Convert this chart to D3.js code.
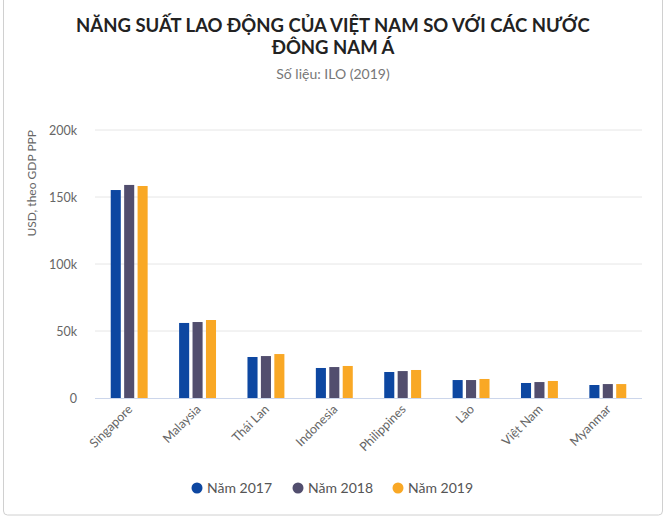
<!DOCTYPE html>
<html>
<head>
<meta charset="utf-8">
<script src="https://cdn.jsdelivr.net/npm/d3@7"></script>
<style>
  body { margin: 0; background: #fff; font-family: Lato, "Open Sans", sans-serif; }
  svg { display: block; }
</style>
</head>
<body>
<script>
const countries = ['Singapore', 'Malaysia', 'Thái Lan', 'Indonesia', 'Philippines', 'Lào', 'Việt Nam', 'Myanmar'];
const years = ['Năm 2017', 'Năm 2018', 'Năm 2019'];
const values2017 = [155.2, 56.0, 30.6, 22.4, 19.4, 13.4, 11.2, 9.7];
const values2018 = [159.0, 56.7, 31.3, 23.1, 20.1, 13.4, 11.9, 10.4];
const values2019 = [158.2, 58.2, 32.8, 23.9, 20.9, 14.2, 12.7, 10.4];
const yTicks = [0, 50, 100, 150, 200];
const colors = ['#0d47a1', '#524e6e', '#f9a825'];

const width = 666, height = 518;
const series = [values2017, values2018, values2019];

const svg = d3.select('body').append('svg')
    .attr('width', width)
    .attr('height', height);

// card border
svg.append('rect')
    .attr('x', 3.5).attr('y', -10)
    .attr('width', 659).attr('height', 525)
    .attr('rx', 4)
    .attr('fill', 'none')
    .attr('stroke', '#d0d0d0');

// titles
svg.append('text')
    .attr('x', 333).attr('y', 32)
    .attr('text-anchor', 'middle')
    .attr('font-size', 18.5).attr('font-weight', 'bold').attr('fill', '#222')
    .text('NĂNG SUẤT LAO ĐỘNG CỦA VIỆT NAM SO VỚI CÁC NƯỚC');
svg.append('text')
    .attr('x', 333).attr('y', 54)
    .attr('text-anchor', 'middle')
    .attr('font-size', 18.5).attr('font-weight', 'bold').attr('fill', '#222')
    .text('ĐÔNG NAM Á');
svg.append('text')
    .attr('x', 333).attr('y', 79)
    .attr('text-anchor', 'middle')
    .attr('font-size', 14).attr('fill', '#777')
    .text('Số liệu: ILO (2019)');

const plotLeft = 95, plotRight = 642, plotTop = 130, plotBottom = 398;

const y = d3.scaleLinear().domain([0, 200]).range([plotBottom, plotTop]);
const x0 = d3.scaleBand().domain(countries).range([plotLeft, plotRight])
    .paddingInner(0.46).paddingOuter(0.23);
const x1 = d3.scaleBand().domain(years).range([0, x0.bandwidth()])
    .paddingInner(0.25).paddingOuter(0);

// grid
svg.append('g').selectAll('line')
    .data(yTicks.filter(d => d > 0))
    .enter().append('line')
    .attr('x1', plotLeft).attr('x2', plotRight)
    .attr('y1', d => y(d)).attr('y2', d => y(d))
    .attr('stroke', '#e6e6e6');

// y axis labels
const yAxis = svg.append('g')
    .attr('transform', `translate(${plotLeft - 15},0)`)
    .call(d3.axisLeft(y).tickValues(yTicks).tickSize(0)
        .tickFormat(d => d === 0 ? '0' : d + 'k'));
yAxis.select('.domain').remove();
yAxis.selectAll('text')
    .attr('font-family', 'Lato, "Open Sans", sans-serif')
    .attr('font-size', 12.5).attr('fill', '#666');

svg.append('text')
    .attr('transform', `translate(36,${plotTop}) rotate(-90)`)
    .attr('text-anchor', 'end')
    .attr('font-size', 12).attr('fill', '#666')
    .text('USD, theo GDP PPP');

// bars
const groups = svg.append('g').selectAll('g')
    .data(countries)
    .enter().append('g')
    .attr('transform', d => `translate(${x0(d)},0)`);

groups.selectAll('rect')
    .data((c, i) => years.map((yr, j) => ({ yr, j, v: series[j][i] })))
    .enter().append('rect')
    .attr('x', d => x1(d.yr))
    .attr('width', x1.bandwidth())
    .attr('y', d => y(d.v))
    .attr('height', d => y(0) - y(d.v))
    .attr('fill', d => colors[d.j]);

// x axis line
svg.append('line')
    .attr('x1', plotLeft).attr('x2', plotRight)
    .attr('y1', plotBottom + 0.5).attr('y2', plotBottom + 0.5)
    .attr('stroke', '#ccd6eb');

// x labels
svg.append('g').selectAll('text')
    .data(countries)
    .enter().append('text')
    .attr('transform', d => `translate(${x0(d) + x0.bandwidth() / 2 + 4},${plotBottom + 12}) rotate(-45)`)
    .attr('text-anchor', 'end')
    .attr('font-size', 12.5).attr('fill', '#666')
    .text(d => d);

// legend
const legendX = [197, 298, 398];
const legend = svg.append('g').selectAll('g')
    .data(years)
    .enter().append('g')
    .attr('transform', (d, i) => `translate(${legendX[i]},488)`);
legend.append('circle')
    .attr('r', 5.5)
    .attr('fill', (d, i) => colors[i]);
legend.append('text')
    .attr('x', 10).attr('y', 5)
    .attr('font-size', 14).attr('fill', '#555')
    .text(d => d);
</script>
</body>
</html>
